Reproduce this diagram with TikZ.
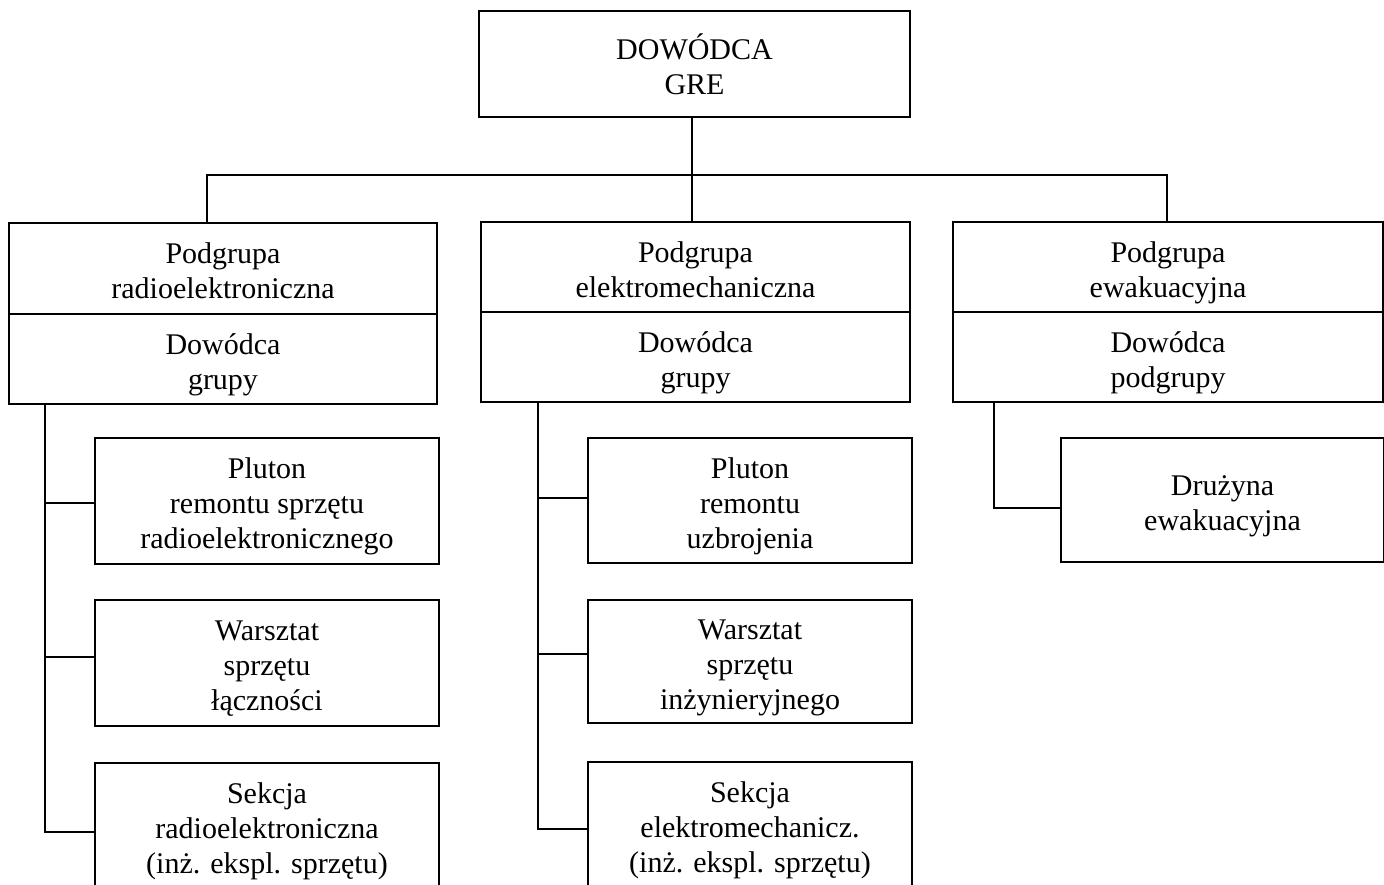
\documentclass[tikz,border=0pt]{standalone}
\usepackage{fontspec}
\setmainfont{Liberation Serif}
% struts so every box places its lines the same way
\newcommand{\firststrut}{\rule{0pt}{33pt}}
\newcommand{\botstrut}{\rule[-8pt]{0pt}{8pt}}
\begin{document}
\begin{tikzpicture}[x=1pt,y=-1pt,
  box/.style={draw, line width=2pt, inner sep=0pt, align=center,
    font=\fontsize{30}{35}\selectfont,
    execute at end node=\botstrut},
  link/.style={line width=2pt}]
\useasboundingbox (0,0) rectangle (1384,884);
\clip (0,0) rectangle (1384,884);

% head
\node[box, minimum width=431, minimum height=106] (top) at (694.5,64) {\firststrut DOWÓDCA\\GRE};

% subgroup boxes (name part + commander part)
\node[box, minimum width=428, minimum height=91] (lu) at (223,268.5) {\firststrut Podgrupa\\radioelektroniczna};
\node[box, minimum width=428, minimum height=90] (ll) at (223,359) {\firststrut Dowódca\\grupy};
\node[box, minimum width=429, minimum height=90] (mu) at (695.5,267) {\firststrut Podgrupa\\elektromechaniczna};
\node[box, minimum width=429, minimum height=90] (ml) at (695.5,357) {\firststrut Dowódca\\grupy};
\node[box, minimum width=430, minimum height=90] (ru) at (1168,267) {\firststrut Podgrupa\\ewakuacyjna};
\node[box, minimum width=430, minimum height=90] (rl) at (1168,357) {\firststrut Dowódca\\podgrupy};

% left column units
\node[box, minimum width=344, minimum height=126] (lp) at (267,501) {\firststrut Pluton\\remontu sprzętu\\radioelektronicznego};
\node[box, minimum width=344, minimum height=126] (lw) at (267,663) {\firststrut Warsztat\\sprzętu\\łączności};
\node[box, minimum width=344, minimum height=126] (ls) at (267,826) {\firststrut Sekcja\\radioelektroniczna\\(inż. ekspl. sprzętu)};

% middle column units
\node[box, minimum width=324, minimum height=125] (mp) at (750,500.5) {\firststrut Pluton\\remontu\\uzbrojenia};
\node[box, minimum width=324, minimum height=123] (mw) at (750,661.5) {\firststrut Warsztat\\sprzętu\\inżynieryjnego};
\node[box, minimum width=324, minimum height=126] (ms) at (750,825) {\firststrut Sekcja\\elektromechanicz.\\(inż. ekspl. sprzętu)};

% right column unit
\node[box, minimum width=323, minimum height=124] (rd) at (1222.5,500) {\firststrut Drużyna\\ewakuacyjna};

% bus from the head to the subgroups
\coordinate (bl) at (207,175);
\coordinate (br) at (1167,175);
\draw[link] (top.south -| 692,0) -- (mu.north -| 692,0);
\draw[link] (lu.north -| bl) -- (bl) -- (br) -- (ru.north -| br);

% trunks and branches
\coordinate (tl) at (45,0);
\coordinate (tm) at (538,0);
\coordinate (tr) at (994,0);

\draw[link] (ll.south -| tl) -- ([yshift=-6pt]ls.west -| tl) -- ([yshift=-6pt]ls.west);
\draw[link] ([yshift=-2pt]lp.west -| tl) -- ([yshift=-2pt]lp.west);
\draw[link] ([yshift=6pt]lw.west -| tl) -- ([yshift=6pt]lw.west);

\draw[link] (ml.south -| tm) -- ([yshift=-4pt]ms.west -| tm) -- ([yshift=-4pt]ms.west);
\draw[link] ([yshift=2.5pt]mp.west -| tm) -- ([yshift=2.5pt]mp.west);
\draw[link] ([yshift=7.5pt]mw.west -| tm) -- ([yshift=7.5pt]mw.west);

\draw[link] (rl.south -| tr) -- ([yshift=-8pt]rd.west -| tr) -- ([yshift=-8pt]rd.west);
\end{tikzpicture}
\end{document}
